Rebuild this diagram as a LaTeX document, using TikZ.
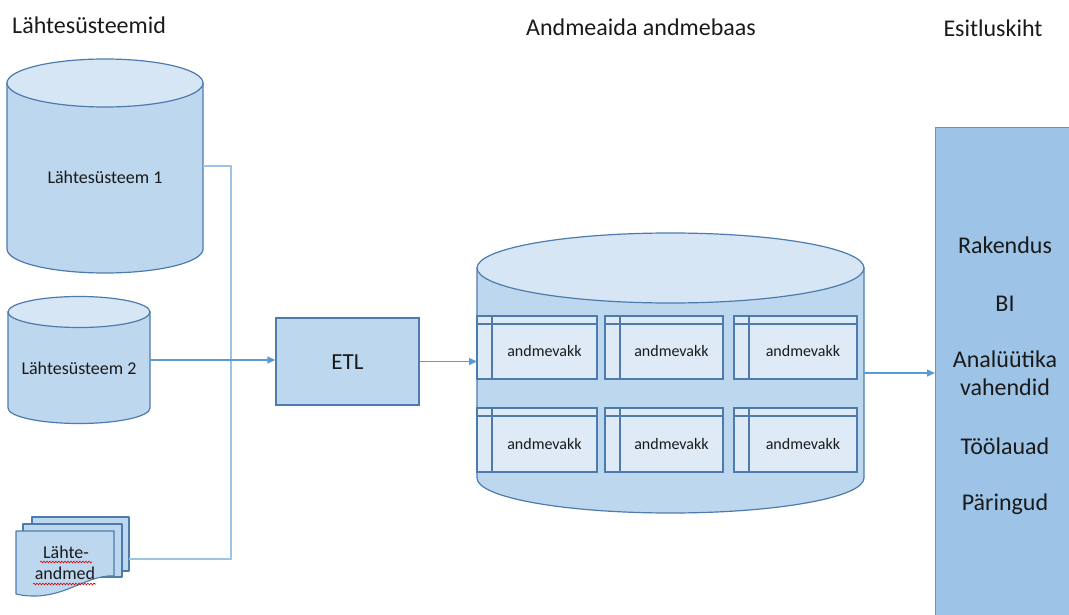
\documentclass[tikz,border=0pt]{standalone}
\usepackage{fontspec}
\setmainfont{Carlito}
\usetikzlibrary{arrows.meta,decorations.pathmorphing}

\definecolor{drumbody}{HTML}{BDD7EE}
\definecolor{drumlidfill}{HTML}{D6E6F5}
\definecolor{outline}{HTML}{4D7BAE}
\definecolor{feedline}{HTML}{9DC3E6}
\definecolor{arrowline}{HTML}{5B9BD5}
\definecolor{vakkfill}{HTML}{DEEBF7}
\definecolor{presfill}{HTML}{9DC3E6}
\definecolor{presedge}{HTML}{6A93C4}
\definecolor{ink}{HTML}{1A1A1A}

\tikzset{
  drumside/.style={fill=drumbody, draw=outline, line width=1.2pt},
  drumlid/.style={fill=drumlidfill, draw=outline, line width=1.2pt},
  hook/.style={draw=none, fill=none, inner sep=0pt, outer sep=0pt},
  etlbox/.style={fill=drumbody, draw=outline, line width=1.2pt, inner sep=0pt,
    minimum width=143pt, minimum height=87pt},
  vakkbox/.style={fill=vakkfill, draw=outline, line width=1.1pt},
  presbox/.style={fill=presfill, draw=presedge, line width=1.2pt, inner sep=0pt},
  docpage/.style={fill=drumbody, draw=outline, line width=1.1pt, line join=round},
  feed/.style={draw=feedline, line width=1.5pt},
  flow/.style={draw=arrowline, line width=1.4pt, -{Triangle[length=8pt,width=7pt]}},
  squiggle/.style={draw=red!85!black, line width=0.6pt, decorate,
    decoration={snake, amplitude=0.9pt, segment length=3pt}},
  title/.style={font=\fontsize{24}{29}\selectfont, text=ink, inner sep=0pt},
  big/.style={font=\fontsize{23}{28}\selectfont, text=ink, inner sep=0pt},
  mid/.style={font=\fontsize{18}{22}\selectfont, text=ink, inner sep=0pt},
  small/.style={font=\fontsize{16}{19}\selectfont, text=ink, inner sep=0pt},
}

% vertical drum: centre x, x radius, lid centre y, floor centre y, y radius
\newcommand\drum[5]{%
  \filldraw[drumside] ({#1-#2},#3) -- ({#1-#2},#4)
    arc[start angle=180, end angle=0, x radius=#2, y radius=#5]
    -- ({#1+#2},#3) -- cycle;
  \filldraw[drumlid] (#1,#3) ellipse[x radius=#2, y radius=#5];
}

\begin{document}
\begin{tikzpicture}[x=1pt, y=-1pt]
\useasboundingbox (0,0) rectangle (1069,615);

% column headings
\node[title, anchor=base west] (hsrc) at (12,34) {Lähtesüsteemid};
\node[title, anchor=base] (hdw) at (641,36) {Andmeaida andmebaas};
\node[title, anchor=base] (hpres) at (993,37) {Esitluskiht};

% source system 1
\drum{105}{98}{83}{249}{24}
\node[hook, minimum width=196pt, minimum height=166pt] (src1) at (105,166) {};
\node[mid, anchor=base] (src1txt) at (105,184) {Lähtesüsteem 1};

% source system 2
\drum{79}{71}{312}{408}{15.5}
\node[hook, minimum width=142pt, minimum height=96pt] (src2) at (79,360) {};
\node[mid, anchor=base] (src2txt) at (79,374) {Lähtesüsteem 2};

% stacked source documents
\filldraw[docpage] (32,517) rectangle (129,571);
\filldraw[docpage] (23,524) rectangle (122,577);
\filldraw[docpage] (16,531) -- (114,531) -- (114,576)
  .. controls (85,574) and (60,604) .. (16,594) -- cycle;
\node[hook, minimum width=113pt, minimum height=84pt] (docs) at (72.5,559) {};
\node[mid, anchor=base] (doc1) at (66,558) {Lähte-};
\node[mid, anchor=base] (doc2) at (65,579) {andmed};
\draw[squiggle] (40,562) -- (92,562);
\draw[squiggle] (33,584) -- (96,584);

% ETL step
\node[etlbox] (etl) at (347.5,361.5) {};
\node[big, anchor=base] (etltxt) at (347.5,369) {ETL};

% warehouse database
\drum{670.5}{193.5}{268}{478}{35}
\node[hook, minimum width=387pt, minimum height=210pt] (db) at (670.5,373) {};

% data marts inside the warehouse
\foreach \xa/\xb [count=\i] in {477/597,605/723,734/857}{
  \foreach \ya/\yb [count=\j] in {316/379,408/472}{
    \filldraw[vakkbox] (\xa,\ya) rectangle (\xb,\yb);
    \draw[vakkbox, fill=none] (\xa,{\ya+8}) -- (\xb,{\ya+8});
    \draw[vakkbox, fill=none] ({\xa+15},\ya) -- ({\xa+15},\yb);
    \node[small, anchor=base] (vakk\i\j) at ({(\xa+15+\xb)/2},{(\ya+8+\yb)/2+5}) {andmevakk};
  }
}

% presentation layer
\node[presbox, anchor=north west, minimum width=150pt, minimum height=510pt] (pres) at (935,127) {};
\node[title, anchor=base] (p1) at (1005,253) {Rakendus};
\node[title, anchor=base] (p2) at (1005,311) {BI};
\node[title, anchor=base] (p3) at (1005,367) {Analüütika};
\node[title, anchor=base] (p4) at (1005,395) {vahendid};
\node[title, anchor=base] (p5) at (1005,454) {Töölauad};
\node[title, anchor=base] (p6) at (1005,510) {Päringud};

% connectors
\coordinate (bus) at (231,559);
\draw[feed] (src1.east) -| (bus) -- (docs.east);
\draw[flow] (src2.east) -- (src2.east -| etl.west);
\draw[flow] (etl.east) -- (etl.east -| db.west);
\draw[flow] (db.east) -- (db.east -| pres.west);
\end{tikzpicture}
\end{document}
